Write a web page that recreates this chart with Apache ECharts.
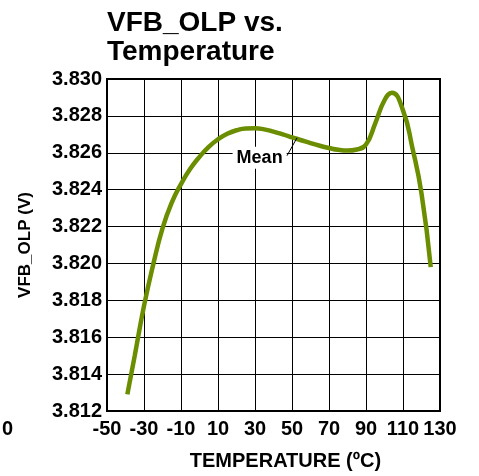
<!DOCTYPE html>
<html>
<head>
<meta charset="utf-8">
<script src="https://cdn.jsdelivr.net/npm/echarts@6/dist/echarts.min.js"></script>
<style>
html,body{margin:0;padding:0;background:#fff;}
#chart{width:479px;height:476px;}
</style>
</head>
<body>
<div id="chart"></div>
<script>
// 温度 (ºC) 与 VFB_OLP 均值 (V)
var temps = [-39, -35, -30, -25, -20, -15, -10, -5, 0, 5, 10, 15, 20, 25, 30, 35, 40, 45, 50, 55, 60, 65, 70, 75, 80, 85, 90, 95, 100, 104, 110, 115, 120, 125];
var vfbMean = [3.81290, 3.81500, 3.81770, 3.81995, 3.82190, 3.82330, 3.82430, 3.82513, 3.82578, 3.82632, 3.82673, 3.82703, 3.82722, 3.82732, 3.82733, 3.82727, 3.82715, 3.82700, 3.82684, 3.82668, 3.82652, 3.82638, 3.82626, 3.82616, 3.82612, 3.82618, 3.82645, 3.82760, 3.82885, 3.82925, 3.82830, 3.82630, 3.82380, 3.81980];
var xTicks = [-50, -30, -10, 10, 30, 50, 70, 90, 110, 130];
var yTicks = [3.812, 3.814, 3.816, 3.818, 3.820, 3.822, 3.824, 3.826, 3.828, 3.830];

var myChart = echarts.init(document.getElementById("chart"));
var pts = [];
for (var i = 0; i < temps.length; i++) {
	pts.push([temps[i], vfbMean[i]]);
}
var font = "Liberation Sans, Arial, sans-serif";
var option = {
	backgroundColor: "#fff",
	animation: false,
	title: {
		text: "VFB_OLP vs.\nTemperature",
		left: 107,
		top: 9,
		padding: 0,
		textStyle: {fontFamily: font, fontSize: 28, fontWeight: "bold", color: "#000", lineHeight: 29}
	},
	grid: {left: 107, right: 39, top: 79, bottom: 64, show: true, borderColor: "#000", borderWidth: 2},
	xAxis: {
		type: "value",
		min: xTicks[0],
		max: xTicks[xTicks.length - 1],
		interval: 20,
		name: "TEMPERATURE (ºC)",
		nameLocation: "middle",
		nameGap: 40,
		nameTextStyle: {fontFamily: font, fontSize: 20, fontWeight: "bold", color: "#000", padding: [0, 0, 0, 24]},
		axisLine: {onZero: false, lineStyle: {color: "#000", width: 2}},
		axisTick: {show: false},
		axisLabel: {fontFamily: font, fontSize: 20, fontWeight: "bold", color: "#000", margin: 8},
		splitLine: {lineStyle: {color: "#000", width: 1}}
	},
	yAxis: {
		type: "value",
		min: yTicks[0],
		max: yTicks[yTicks.length - 1],
		interval: 0.002,
		name: "VFB_OLP (V)",
		nameLocation: "middle",
		nameGap: 73,
		nameTextStyle: {fontFamily: font, fontSize: 17, fontWeight: "bold", color: "#000"},
		axisLine: {onZero: false, lineStyle: {color: "#000", width: 2}},
		axisTick: {show: false},
		axisLabel: {
			fontFamily: font, fontSize: 20, fontWeight: "bold", color: "#000", margin: 5,
			formatter: function(v) { return v.toFixed(3); }
		},
		splitLine: {lineStyle: {color: "#000", width: 1}}
	},
	series: [{
		type: "line",
		data: pts,
		smooth: 0.5,
		showSymbol: false,
		lineStyle: {color: "#6b8e00", width: 4.5}
	}]
};
myChart.setOption(option);

// Mean 标注及引线
var lab = myChart.convertToPixel({gridIndex: 0}, [32.5, 3.82573]);
var p1 = myChart.convertToPixel({gridIndex: 0}, [47.3, 3.82584]);
var p2 = myChart.convertToPixel({gridIndex: 0}, [52.7, 3.82681]);
myChart.setOption({
	graphic: [{
		type: "line",
		shape: {x1: p1[0], y1: p1[1], x2: p2[0], y2: p2[1]},
		style: {stroke: "#000", lineWidth: 1},
		z: 100
	}, {
		type: "text",
		x: lab[0],
		y: lab[1],
		style: {
			text: "Mean", fontFamily: font, fontSize: 18, fontWeight: "bold", fill: "#000",
			align: "center", verticalAlign: "middle",
			backgroundColor: "#fff", padding: [2, 4, 2, 4]
		},
		z: 99
	}, {
		type: "text",
		x: 2,
		y: 429,
		style: {text: "0", fontFamily: font, fontSize: 20, fontWeight: "bold", fill: "#000", verticalAlign: "middle"}
	}]
});
</script>
</body>
</html>
